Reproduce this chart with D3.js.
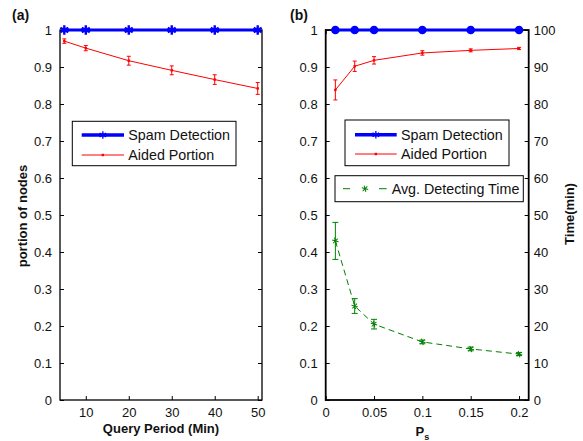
<!DOCTYPE html>
<html>
<head>
<meta charset="utf-8">
<script src="https://cdn.jsdelivr.net/npm/d3@7"></script>
<style>
  body { margin: 0; background: #fff; }
  text { font-family: "Liberation Sans", Arial, Helvetica, sans-serif; }
</style>
</head>
<body>
<div id="graph"></div>
<script>
// panel (a)
const queryPeriod = [5, 10, 20, 30, 40, 50];
const spamA = [1, 1, 1, 1, 1, 1];
const aidedA = [0.970, 0.951, 0.917, 0.891, 0.866, 0.842];
const aidedAErr = [0.006, 0.007, 0.012, 0.012, 0.013, 0.016];

// panel (b)
const ps = [0.01, 0.03, 0.05, 0.1, 0.15, 0.2];
const spamB = [1, 1, 1, 1, 1, 1];
const aidedB = [0.838, 0.902, 0.918, 0.938, 0.945, 0.950];
const aidedBErr = [0.027, 0.014, 0.010, 0.006, 0.004, 0.003];
const detectTime = [43.0, 25.4, 20.5, 15.7, 13.8, 12.4];
const detectTimeErr = [5.0, 2.0, 1.3, 0.5, 0.5, 0.4];

const xTicksA = [10, 20, 30, 40, 50];
const xTicksB = [0, 0.05, 0.1, 0.15, 0.2];
const yTicks = d3.range(0, 11).map(d => d / 10);
const yTicksTime = d3.range(0, 11).map(d => d * 10);

const w = 583;
const h = 441;
const plotTop = 30, plotBottom = 400;

const svg = d3.select("#graph")
  .append("svg")
  .attr("width", w)
  .attr("height", h);

svg.append("rect").attr("width", w).attr("height", h).attr("fill", "#fff");

const yScale = d3.scaleLinear().domain([0, 1]).range([plotBottom, plotTop]);
const yTime = d3.scaleLinear().domain([0, 100]).range([plotBottom, plotTop]);
const xA = d3.scaleLinear().domain([4, 51]).range([60, 262]);
const xB = d3.scaleLinear().domain([0, 0.21]).range([325.7, 528.7]);

function tickFmt(d) { return String(+d.toFixed(2)); }

function drawAxes(x, xTicks, strokeW) {
  const g = svg.append("g");
  const x0 = x.range()[0], x1 = x.range()[1];
  // inward ticks, MATLAB style
  const bAxis = d3.axisBottom(x).tickValues(xTicks).tickSizeInner(-4).tickSizeOuter(0)
    .tickPadding(8).tickFormat(tickFmt);
  const tAxis = d3.axisTop(x).tickValues(xTicks).tickSizeInner(-4).tickSizeOuter(0).tickFormat("");
  const lAxis = d3.axisLeft(yScale).tickValues(yTicks).tickSizeInner(-4).tickSizeOuter(0)
    .tickPadding(8).tickFormat(tickFmt);
  g.append("g").attr("transform", `translate(0,${plotBottom})`).call(bAxis);
  g.append("g").attr("transform", `translate(0,${plotTop})`).call(tAxis);
  g.append("g").attr("transform", `translate(${x0},0)`).call(lAxis);
  g.selectAll(".domain").remove();
  g.selectAll("line").attr("stroke", "#000").attr("stroke-width", 1);
  g.selectAll("text").attr("font-size", 13).attr("fill", "#111")
    .style("font-family", "'Liberation Sans', Arial, sans-serif");
  g.append("rect")
    .attr("x", x0).attr("y", plotTop)
    .attr("width", x1 - x0).attr("height", plotBottom - plotTop)
    .attr("fill", "none").attr("stroke", "#000").attr("stroke-width", strokeW);
  return g;
}

function errorBars(x, y, xs, ys, es, color, cap) {
  const g = svg.append("g").attr("stroke", color).attr("stroke-width", 1);
  xs.forEach((xv, i) => {
    const cx = x(xv), y1 = y(ys[i] - es[i]), y2 = y(ys[i] + es[i]);
    g.append("line").attr("x1", cx).attr("x2", cx).attr("y1", y1).attr("y2", y2);
    g.append("line").attr("x1", cx - cap).attr("x2", cx + cap).attr("y1", y1).attr("y2", y1);
    g.append("line").attr("x1", cx - cap).attr("x2", cx + cap).attr("y1", y2).attr("y2", y2);
  });
}

function linePath(x, y, xs, ys) {
  return d3.line().x(d => x(d[0])).y(d => y(d[1]))(xs.map((v, i) => [v, ys[i]]));
}

const asterisk = d3.symbol().type(d3.symbolAsterisk);

// ---------- panel (a) ----------
drawAxes(xA, xTicksA, 1.3);
const rightA = d3.axisRight(yScale).tickValues(yTicks).tickSizeInner(-4).tickSizeOuter(0).tickFormat("");
svg.append("g").attr("transform", `translate(${xA.range()[1]},0)`).call(rightA)
  .call(g => g.select(".domain").remove())
  .selectAll("line").attr("stroke", "#000");

errorBars(xA, yScale, queryPeriod, aidedA, aidedAErr, "#ff0000", 2);
svg.append("path").attr("d", linePath(xA, yScale, queryPeriod, aidedA))
  .attr("fill", "none").attr("stroke", "#ff0000").attr("stroke-width", 1);
svg.selectAll(".dotA").data(queryPeriod).enter().append("rect")
  .attr("x", (d) => xA(d) - 1.2).attr("y", (d, i) => yScale(aidedA[i]) - 1.2)
  .attr("width", 2.4).attr("height", 2.4).attr("fill", "#ff0000");

svg.append("path").attr("d", linePath(xA, yScale, queryPeriod, spamA))
  .attr("fill", "none").attr("stroke", "#0000ff").attr("stroke-width", 3);
svg.selectAll(".astA").data(queryPeriod).enter().append("path")
  .attr("d", asterisk.size(60))
  .attr("transform", (d, i) => `translate(${xA(d)},${yScale(spamA[i])})`)
  .attr("fill", "none").attr("stroke", "#0000ff").attr("stroke-width", 2.4);

// ---------- panel (b) ----------
drawAxes(xB, xTicksB, 1.8);
const rightB = d3.axisRight(yTime).tickValues(yTicksTime).tickSizeInner(-4).tickSizeOuter(0)
  .tickPadding(5);
svg.append("g").attr("transform", `translate(${xB.range()[1]},0)`).call(rightB)
  .call(g => g.select(".domain").remove())
  .call(g => g.selectAll("line").attr("stroke", "#000"))
  .selectAll("text").attr("font-size", 13).attr("fill", "#111")
  .style("font-family", "'Liberation Sans', Arial, sans-serif");

errorBars(xB, yScale, ps, aidedB, aidedBErr, "#ff0000", 2);
svg.append("path").attr("d", linePath(xB, yScale, ps, aidedB))
  .attr("fill", "none").attr("stroke", "#ff0000").attr("stroke-width", 1);
svg.selectAll(".dotB").data(ps).enter().append("rect")
  .attr("x", (d) => xB(d) - 1.2).attr("y", (d, i) => yScale(aidedB[i]) - 1.2)
  .attr("width", 2.4).attr("height", 2.4).attr("fill", "#ff0000");

errorBars(xB, yTime, ps, detectTime, detectTimeErr, "#008000", 3);
svg.append("path").attr("d", linePath(xB, yTime, ps, detectTime))
  .attr("fill", "none").attr("stroke", "#008000").attr("stroke-width", 1)
  .attr("stroke-dasharray", "6,4");
svg.selectAll(".astB").data(ps).enter().append("path")
  .attr("d", asterisk.size(30))
  .attr("transform", (d, i) => `translate(${xB(d)},${yTime(detectTime[i])}) rotate(45)`)
  .attr("fill", "none").attr("stroke", "#008000").attr("stroke-width", 1);

svg.append("path").attr("d", linePath(xB, yScale, ps, spamB))
  .attr("fill", "none").attr("stroke", "#0000ff").attr("stroke-width", 3);
svg.selectAll(".circB").data(ps).enter().append("circle")
  .attr("cx", (d) => xB(d)).attr("cy", (d, i) => yScale(spamB[i]))
  .attr("r", 4.3).attr("fill", "#0000ff");

// ---------- legends ----------
function legendBox(x, y, bw, bh) {
  svg.append("rect").attr("x", x).attr("y", y).attr("width", bw).attr("height", bh)
    .attr("fill", "#fff").attr("stroke", "#000").attr("stroke-width", 1);
}
function legendText(x, y, t) {
  svg.append("text").attr("x", x).attr("y", y + 5).attr("font-size", 14.3)
    .attr("fill", "#111").text(t);
}
function legendSpam(x1, x2, y) {
  svg.append("line").attr("x1", x1).attr("x2", x2).attr("y1", y).attr("y2", y)
    .attr("stroke", "#0000ff").attr("stroke-width", 3.5);
  svg.append("path").attr("d", asterisk.size(40))
    .attr("transform", `translate(${(x1 + x2) / 2},${y})`)
    .attr("fill", "none").attr("stroke", "#0000ff").attr("stroke-width", 1.3);
}
function legendAided(x1, x2, y) {
  svg.append("line").attr("x1", x1).attr("x2", x2).attr("y1", y).attr("y2", y)
    .attr("stroke", "#ff0000").attr("stroke-width", 1);
  svg.append("rect").attr("x", (x1 + x2) / 2 - 1.2).attr("y", y - 1.2)
    .attr("width", 2.4).attr("height", 2.4).attr("fill", "#ff0000");
}

legendBox(72.3, 121.3, 163.7, 44.4);
legendSpam(81.7, 124, 135);
legendText(128.3, 135, "Spam Detection");
legendAided(81.7, 124, 155);
legendText(128.3, 155, "Aided Portion");

legendBox(345, 120, 164, 45.7);
legendSpam(355, 396.7, 134.7);
legendText(401, 134.7, "Spam Detection");
legendAided(355, 396.7, 154);
legendText(401, 154, "Aided Portion");

legendBox(335, 175.7, 188.3, 26);
[[343, 350], [379, 386.7]].forEach(s => {
  svg.append("line").attr("x1", s[0]).attr("x2", s[1]).attr("y1", 188.7).attr("y2", 188.7)
    .attr("stroke", "#008000").attr("stroke-width", 1);
});
svg.append("path").attr("d", asterisk.size(30))
  .attr("transform", `translate(365,188.7) rotate(45)`)
  .attr("fill", "none").attr("stroke", "#008000").attr("stroke-width", 1);
legendText(391.7, 188.7, "Avg. Detecting Time");

// ---------- labels ----------
svg.append("text").attr("x", 12).attr("y", 20).attr("font-size", 14)
  .attr("font-weight", "bold").attr("fill", "#111").text("(a)");
svg.append("text").attr("x", 290).attr("y", 20).attr("font-size", 14)
  .attr("font-weight", "bold").attr("fill", "#111").text("(b)");

svg.append("text").attr("x", 161).attr("y", 433).attr("text-anchor", "middle")
  .attr("font-size", 13).attr("font-weight", "bold").attr("fill", "#111")
  .text("Query Period (Min)");

svg.append("text").attr("transform", "translate(27,216) rotate(-90)")
  .attr("text-anchor", "middle").attr("font-size", 13).attr("font-weight", "bold")
  .attr("fill", "#111").text("portion of nodes");

svg.append("text").attr("transform", "translate(574,214) rotate(-90)")
  .attr("text-anchor", "middle").attr("font-size", 13).attr("font-weight", "bold")
  .attr("fill", "#111").text("Time(min)");

const psLabel = svg.append("text").attr("x", 422.3).attr("y", 436)
  .attr("text-anchor", "middle").attr("font-size", 13).attr("font-weight", "bold")
  .attr("fill", "#111");
psLabel.append("tspan").text("P");
psLabel.append("tspan").attr("font-size", 9).attr("dy", 4).text("s");
</script>
</body>
</html>
